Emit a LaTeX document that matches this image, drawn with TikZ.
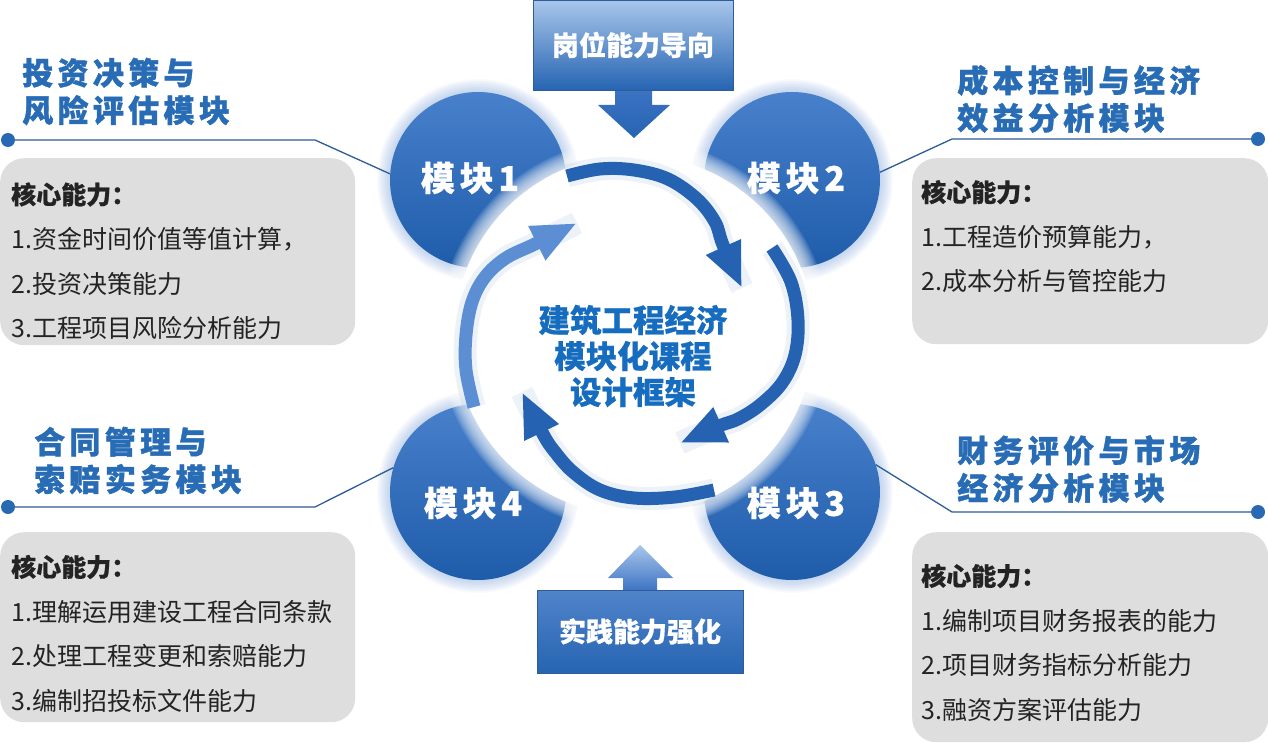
\documentclass[tikz,border=0pt]{standalone}
\usepackage{fontspec}
\newfontfamily\cjk[BoldFeatures={FakeBold=0.6}]{Noto Sans CJK SC}
\newfontfamily\cjkls[LetterSpace=14,BoldFeatures={FakeBold=1.2}]{Noto Sans CJK SC}
\newfontfamily\cjkmod[LetterSpace=14,BoldFeatures={FakeBold=0.8}]{Noto Sans CJK SC}
\newfontfamily\cjkbody{Noto Sans CJK SC}
\usetikzlibrary{arrows.meta}
\definecolor{modtop}{RGB}{72,128,203}
\definecolor{modbot}{RGB}{30,92,170}
\definecolor{modglow}{RGB}{120,160,220}
\definecolor{banddark}{RGB}{38,98,178}
\definecolor{bandlight}{RGB}{92,142,212}
\definecolor{titleblue}{RGB}{40,108,182}
\definecolor{centerblue}{RGB}{22,108,190}
\definecolor{linecol}{RGB}{45,92,150}
\definecolor{dotcol}{RGB}{40,105,180}
\definecolor{boxgray}{RGB}{222,222,222}
\definecolor{bodytext}{RGB}{35,35,35}
\definecolor{arrtop}{RGB}{168,198,235}
\definecolor{arrbot}{RGB}{38,100,178}
\definecolor{botboxtop}{RGB}{80,132,202}
\definecolor{uparrbot}{RGB}{60,115,195}
\begin{document}
\begin{tikzpicture}[x=1pt,y=-1pt,
  graybox/.style={fill=boxgray, rounded corners=24pt, inner sep=0pt, anchor=north west},
  bodytxt/.style={anchor=west, align=left, inner sep=0pt, text=bodytext, font=\fontsize{25pt}{44.5pt}\selectfont\cjkbody},
  titletxt/.style={anchor=west, align=left, inner sep=0pt, text=titleblue, font=\fontsize{31pt}{37.5pt}\selectfont\cjkls\bfseries},
  conn/.style={draw=linecol, line width=1.3pt},
  dotnode/.style={circle, fill=dotcol, minimum size=14pt, inner sep=0pt},
  modcirc/.style={circle, minimum size=176pt, inner sep=0pt, top color=modtop, bottom color=modbot},
  modlabel/.style={text=white, inner sep=0pt, font=\fontsize{34pt}{36pt}\selectfont\cjkmod\bfseries},
  band/.style={line width=13pt, draw=banddark, -{Triangle[length=45pt,width=35pt]},
    preaction={draw=banddark!45, line width=23pt, opacity=0.18, -}},
  lightband/.style={band, draw=bandlight},
  centertxt/.style={align=center, text=centerblue, inner sep=0pt, font=\fontsize{31.5pt}{36pt}\selectfont\cjk\bfseries},
  bluebox/.style={inner sep=0pt, text=white, font=\fontsize{27pt}{30pt}\selectfont\cjk\bfseries, draw=linecol, line width=0.6pt}
]
\useasboundingbox (0,0) rectangle (1268,743);
\fill[white] (0,0) rectangle (1268,743);

% grey boxes
\node[graybox, minimum width=355pt, minimum height=187pt] (b1) at (0,158) {};
\node[graybox, minimum width=356pt, minimum height=186pt] (b2) at (912,158) {};
\node[graybox, minimum width=355pt, minimum height=190pt] (b4) at (0,532) {};
\node[graybox, minimum width=356pt, minimum height=210pt] (b3) at (912,532) {};

\node[bodytxt] (c1) at (11,261) {{\cjk\bfseries 核心能力：}\\1.资金时间价值等值计算，\\2.投资决策能力\\3.工程项目风险分析能力};
\node[bodytxt] (c2) at (921,236.5) {{\cjk\bfseries 核心能力：}\\1.工程造价预算能力，\\2.成本分析与管控能力};
\node[bodytxt] (c4) at (11,633.5) {{\cjk\bfseries 核心能力：}\\1.理解运用建设工程合同条款\\2.处理工程变更和索赔能力\\3.编制招投标文件能力};
\node[bodytxt] (c3) at (921,642.5) {{\cjk\bfseries 核心能力：}\\1.编制项目财务报表的能力\\2.项目财务指标分析能力\\3.融资方案评估能力};

% titles
\node[titletxt] (t1) at (22,91.5) {投资决策与\\风险评估模块};
\node[titletxt] (t2) at (957,99) {成本控制与经济\\效益分析模块};
\node[titletxt] (t4) at (34,460.5) {合同管理与\\索赔实务模块};
\node[titletxt] (t3) at (957,469) {财务评价与市场\\经济分析模块};

% module glows
\foreach \cx/\cy in {478/180, 792/180, 792/492, 478/492}{
  \foreach \i in {1,...,8}{
    \fill[modglow, opacity=0.06] (\cx,\cy) circle[radius=88pt+\i*1.6pt];
  }
}
% modules
\node[modcirc] (m1) at (478,180) {};
\node[modcirc] (m2) at (792,180) {};
\node[modcirc] (m3) at (792,492) {};
\node[modcirc] (m4) at (478,492) {};

% white central disc with glow
\foreach \i in {1,...,10}{
  \fill[white, opacity=0.12] (634,335) circle[radius=180pt+\i*1.6pt];
}
\fill[white] (634,335) circle[radius=180pt];

% circular arrows
\draw[band] plot[smooth, tension=0.6] coordinates {(567,176) (600,169) (634,170) (668,179) (697,199) (715,222) (723,245) (742,288)};
\draw[band] plot[smooth, tension=0.6] coordinates {(772,248) (791,282) (798,320) (795,355) (782,383) (760,405) (738,419) (719,426) (680,443)};
\draw[band] plot[smooth, tension=0.6] coordinates {(714,490) (675,497) (634,498) (600,490) (573,472) (555,452) (543,434) (522,392)};
\draw[lightband] plot[smooth, tension=0.6] coordinates {(474,407) (466,370) (466,335) (472,302) (485,277) (506,258) (535,244) (577,223)};

\node[centertxt] (ctr) at (633,356) {建筑工程经济\\模块化课程\\设计框架};

% module labels
\node[modlabel] (l1) at (470,178) {模块1};
\node[modlabel] (l2) at (796,178) {模块2};
\node[modlabel] (l3) at (796,503) {模块3};
\node[modlabel] (l4) at (473,503) {模块4};

% connectors
\node[dotnode] (d1) at (8,140) {};
\node[dotnode] (d2) at (1258,139) {};
\node[dotnode] (d4) at (8,507) {};
\node[dotnode] (d3) at (1258,512) {};
\coordinate (k1) at (315,140);
\coordinate (k2) at (952,139);
\coordinate (k4) at (315,507);
\coordinate (k3) at (952,512);
\draw[conn] (d1) -- (k1) -- (m1.176);
\draw[conn] (d2) -- (k2) -- (m2.5);
\draw[conn] (d4) -- (k4) -- (m4.164);
\draw[conn] (d3) -- (k3) -- (m3.18);

% top box and arrow
\shade[top color=uparrbot, bottom color=arrbot] (615,89) -- (652,89) -- (652,105) -- (670,105) -- (634,138) -- (598,105) -- (615,105) -- cycle;
\node[bluebox, minimum width=200pt, minimum height=90pt, top color=arrtop, bottom color=arrbot] (tb) at (633,45) {岗位能力导向};

% bottom box and arrow
\shade[top color=arrtop, bottom color=uparrbot] (640,545) -- (673,578) -- (657,578) -- (657,591) -- (623,591) -- (623,578) -- (608,578) -- cycle;
\node[bluebox, minimum width=206pt, minimum height=83pt, top color=botboxtop, bottom color=arrbot] (bb) at (640,631.5) {实践能力强化};
\end{tikzpicture}
\end{document}
